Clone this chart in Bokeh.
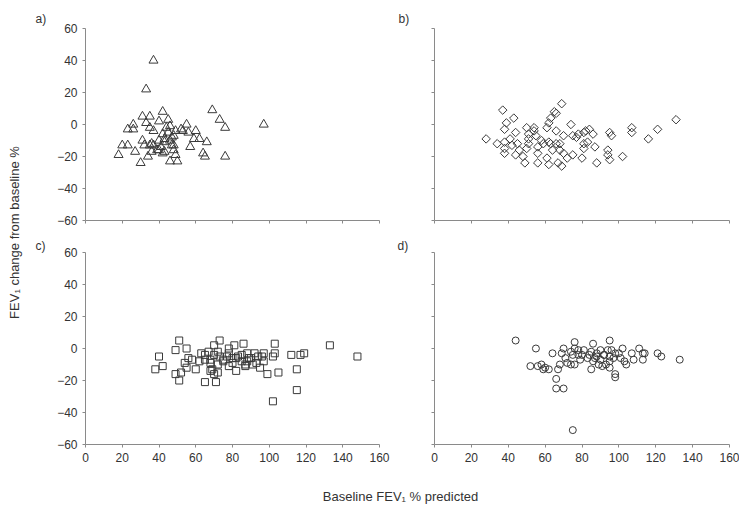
import numpy as np
from bokeh.plotting import figure
from bokeh.layouts import row, column
from bokeh.models import Label, Range1d, FixedTicker
from bokeh.embed import file_html
from bokeh.resources import INLINE

# ---------------- data ----------------
x_ticks = [0, 20, 40, 60, 80, 100, 120, 140, 160]
y_ticks = [-60, -40, -20, 0, 20, 40, 60]
x_title = "Baseline FEV\u2081 % predicted"
y_title = "FEV\u2081 change from baseline %"
panel_letters = ["a)", "b)", "c)", "d)"]

# panel a (triangles)
a_x = [18, 20, 23, 23, 26, 26, 27, 30, 31, 33,
       37, 31, 32, 33, 35, 34, 35, 35, 37, 37,
       39, 40, 41, 42, 42, 43, 43, 45, 44, 45,
       46, 47, 46, 48, 49, 49, 48, 50, 52, 53,
       55, 56, 57, 59, 60, 62, 64, 65, 66, 69,
       73, 76, 76, 97, 36, 40, 43, 36, 40, 42,
       47, 48, 46]
a_y = [-19, -13, -13, -3, 0, -3, -17, -24, 5, 22,
       40, -10, -13, 1, 5, -20, -2, -13, -4, -13,
       -16, 2, -14, 8, -6, -9, -17, 3, -2, -5,
       -10, -13, -23, -7, -4, -19, -16, -23, -3, -4,
       0, -5, -14, -9, -4, -9, -18, -20, -11, 9,
       3, -2, -20, 0, -12, -10, -11, -17, -16, -18,
       -8, -13, -1]

# panel b (diamonds)
b_x = [28, 34, 37, 39, 38, 43, 44, 38, 41, 38,
       38, 42, 45, 46, 44, 48, 49, 50, 51, 51,
       51, 50, 54, 55, 54, 56, 56, 56, 58, 59,
       61, 61, 62, 63, 65, 66, 62, 63, 64, 62,
       66, 66, 68, 68, 67, 69, 69, 70, 70, 72,
       74, 75, 75, 77, 78, 80, 81, 82, 84, 81,
       81, 83, 86, 87, 88, 94, 94, 95, 95, 96,
       102, 107, 107, 116, 121, 131]
b_y = [-9, -12, 9, 1, -3, 4, -5, -11, -9, -15,
       -18, -13, -12, -16, -19, -20, -24, -2, -6, -9,
       -12, -15, -2, -7, -4, -14, -18, -24, -10, -12,
       -2, -21, 1, 4, 8, 7, -11, -12, -16, -25,
       -4, -12, -12, -16, -24, 13, -26, -7, -18, -21,
       0, -19, -7, -8, -6, -21, -5, -4, -3, -15,
       -12, -11, -6, -14, -24, -16, -19, -22, -5, -7,
       -20, -2, -5, -9, -3, 3]

# panel c (squares)
c_x = [38, 40, 42, 49, 51, 55, 49, 52, 51, 54,
       56, 55, 58, 60, 63, 65, 65, 67, 68, 69,
       70, 72, 71, 68, 70, 72, 73, 70, 73, 75,
       77, 78, 78, 80, 81, 82, 83, 85, 86, 87,
       88, 89, 91, 92, 94, 95, 97, 97, 99, 105,
       102, 103, 103, 102, 112, 117, 119, 115, 115, 133,
       148, 75, 80, 85, 88, 90, 68, 72, 78, 82,
       87, 93, 96, 62, 65]
c_y = [-13, -5, -11, -1, 5, 0, -16, -15, -20, -9,
       -6, -12, -7, -13, -3, -7, -21, -2, -14, -13,
       -16, -15, -21, -7, -4, -2, 5, 2, -5, -8,
       -5, 0, -3, -6, 2, -14, -5, -8, 3, -11,
       -3, -6, -10, -3, -5, -12, -8, -3, -16, -15,
       -5, -3, 3, -33, -4, -4, -3, -13, -26, 2,
       -5, -7, -9, -4, -8, -6, -9, -10, -11, -6,
       -10, -9, -5, -8, -4]

# panel d (circles)
d_x = [44, 55, 52, 56, 58, 59, 60, 62, 64, 66,
       66, 70, 67, 68, 70, 69, 71, 72, 74, 76,
       75, 76, 76, 75, 78, 79, 81, 80, 83, 84,
       85, 85, 86, 87, 88, 89, 90, 91, 92, 93,
       94, 95, 95, 95, 96, 97, 98, 98, 98, 100,
       101, 102, 104, 103, 107, 108, 111, 113, 113, 114,
       121, 123, 133, 74, 86, 90, 92, 95, 88, 78]
d_y = [5, 0, -11, -11, -10, -13, -12, -13, -3, -19,
       -25, -25, -13, -10, 0, -3, -6, -9, -10, -10,
       -51, 4, 0, -4, -1, -7, -1, -4, -6, -4,
       -2, -13, 3, -6, -3, -10, -1, -11, -4, -10,
       -1, -12, 5, -5, -1, -6, -3, -16, -18, -3,
       -6, 0, -10, -8, -3, -7, 0, -7, -3, -3,
       -3, -5, -7, -2, -8, -7, -4, -8, -5, -4]

# ---------------- style ----------------
FONT = "Liberation Sans"
TXT = "#333333"
AXC = "#8a8a8a"
MK = "#3a3a3a"
FH = 192


def panel(xs, ys, marker, size, angle, letter, t_off, t_stand, show_x, show_y,
          bl, br, bt, bb, fw):
    p = figure(frame_width=fw, frame_height=FH,
               x_range=Range1d(0, 160), y_range=Range1d(-60, 60),
               toolbar_location=None, output_backend="svg",
               min_border_left=bl, min_border_right=br,
               min_border_top=bt, min_border_bottom=bb)
    p.outline_line_color = None
    p.xgrid.visible = False
    p.ygrid.visible = False
    p.background_fill_color = "white"
    p.border_fill_color = "white"
    for ax in (p.xaxis[0], p.yaxis[0]):
        ax.axis_line_color = AXC
        ax.axis_line_width = 1
        ax.major_tick_line_color = AXC
        ax.major_tick_out = 3
        ax.major_tick_in = 0
        ax.minor_tick_line_color = None
        ax.major_label_text_font = FONT
        ax.major_label_text_font_size = "12px"
        ax.major_label_text_color = TXT
        ax.major_label_standoff = 5
    p.xaxis[0].ticker = FixedTicker(ticks=x_ticks)
    p.yaxis[0].ticker = FixedTicker(ticks=y_ticks)
    if not show_x:
        p.xaxis[0].major_label_text_color = None
    if not show_y:
        p.yaxis[0].major_label_text_color = None
    p.scatter(xs, ys, marker=marker, size=size, angle=angle,
              fill_color=None, line_color=MK, line_width=1)
    p.title.text = letter
    p.title.align = "left"
    p.title.offset = t_off
    p.title.standoff = t_stand
    p.title.text_font = FONT
    p.title.text_font_size = "12px"
    p.title.text_font_style = "normal"
    p.title.text_color = TXT
    return p


pa = panel(a_x, a_y, "triangle", 9, 0, panel_letters[0], -50, 6, False, True,
           57, 15, 28, 12, 294)
pb = panel(b_x, b_y, "square", 6, np.pi / 4, panel_letters[1], -36, 6, False, False,
           40, 10, 28, 12, 295)
pc = panel(c_x, c_y, "square", 7, 0, panel_letters[2], -50, 0, True, True,
           57, 15, 20, 30, 294)
pd_ = panel(d_x, d_y, "circle", 7, 0, panel_letters[3], -37, 0, True, False,
            40, 10, 20, 30, 295)

# y title strip
H_ROWS = 232 + 242
yt = figure(width=28, height=H_ROWS, x_range=Range1d(0, 28),
            y_range=Range1d(0, H_ROWS), toolbar_location=None,
            output_backend="svg", min_border=0,
            x_axis_location=None, y_axis_location=None)
yt.outline_line_color = None
yt.xgrid.visible = False
yt.ygrid.visible = False
yt.add_layout(Label(x=14, y=H_ROWS - 232, text=y_title, angle=np.pi / 2,
                    text_font=FONT, text_font_size="13px", text_color=TXT,
                    text_align="center", text_baseline="middle"))

# x title strip
XT_H = 30
xt = figure(width=739, height=XT_H, x_range=Range1d(0, 739),
            y_range=Range1d(0, XT_H), toolbar_location=None,
            output_backend="svg", min_border=0,
            x_axis_location=None, y_axis_location=None)
xt.outline_line_color = None
xt.xgrid.visible = False
xt.ygrid.visible = False
xt.add_layout(Label(x=400, y=XT_H - (496 - 474), text=x_title,
                    text_font=FONT, text_font_size="13px", text_color=TXT,
                    text_align="center", text_baseline="middle"))

layout = column(row(yt, column(row(pa, pb), row(pc, pd_))), xt)

open("out.html", "w").write(file_html(layout, INLINE))
